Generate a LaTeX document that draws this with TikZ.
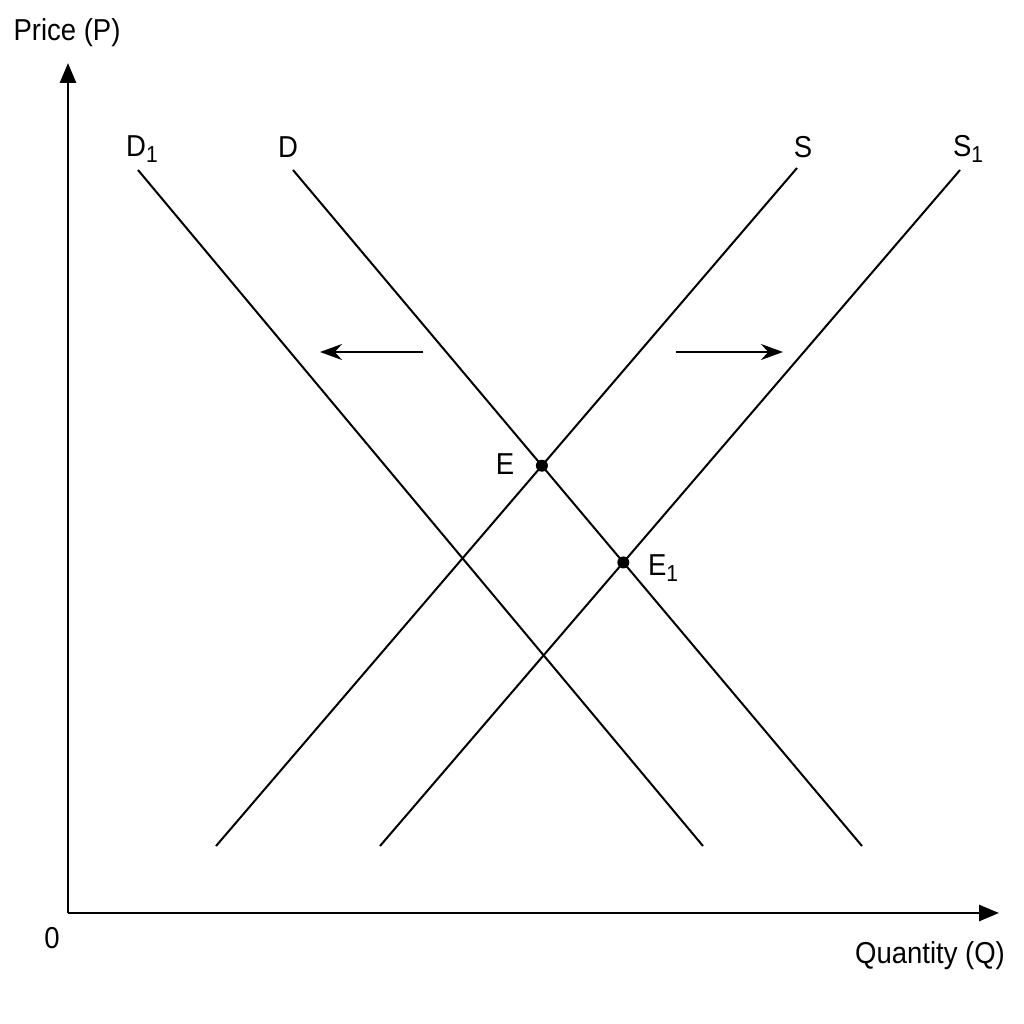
\documentclass[tikz,border=0pt]{standalone}
\usepackage{fontspec}
\setmainfont{Liberation Sans}
\usetikzlibrary{arrows.meta}
\newcommand{\lowone}{\raisebox{-6pt}{\fontsize{21}{21}\selectfont 1}}
\begin{document}
\begin{tikzpicture}[x=1pt,y=-1pt,
    curve/.style={line width=2pt},
    axis/.style={line width=2.8pt,-{Triangle[length=20pt,width=16pt]}},
    shiftarrow/.style={line width=2.2pt,-{Stealth[length=22pt,width=16pt]}},
    lbl/.style={font=\fontsize{27.5}{32}\selectfont,inner sep=0pt}]
\useasboundingbox (0,0) rectangle (1024,1024);
% axes
\coordinate (O) at (68,913);
\coordinate (ytop) at (68,63);
\coordinate (xend) at (999,913);
\draw[axis] (O) -- (ytop);
\draw[axis] (O) -- (xend);
\node[lbl] at (67,33)(price){\scalebox{1}[1.1]{Price (P)}};
\node[lbl] at (52,938)(zero){\scalebox{1}[1.1]{0}};
\node[lbl] at (930,956)(qty){\scalebox{1}[1.1]{Quantity (Q)}};

% curve end points
\coordinate (D1top) at (138,170); \coordinate (D1bot) at (703,846);
\coordinate (Dtop) at (293,170);  \coordinate (Dbot) at (862,846);
\coordinate (Sbot) at (216,846);  \coordinate (Stop) at (797,168);
\coordinate (S1bot) at (380,846); \coordinate (S1top) at (960,170);
\foreach \a/\b in {D1top/D1bot, Dtop/Dbot, Sbot/Stop, S1bot/S1top}{
    \draw[curve] (\a) -- (\b);
}
\node[lbl] at (142,149)(lD1){\scalebox{1}[1.1]{D\lowone}};
\node[lbl] at (288,147)(lD){\scalebox{1}[1.1]{D}};
\node[lbl] at (803,147)(lS){\scalebox{1}[1.1]{S}};
\node[lbl] at (968,149)(lS1){\scalebox{1}[1.1]{S\lowone}};

% equilibrium points
\coordinate (E) at (intersection of Dtop--Dbot and Sbot--Stop);
\coordinate (E1) at (intersection of Dtop--Dbot and S1bot--S1top);
\fill (E) circle (6);
\fill (E1) circle (6);
\node[lbl] at (505,464)(lE){\scalebox{1}[1.1]{E}};
\node[lbl] at (663,568)(lE1){\scalebox{1}[1.1]{E\lowone}};

% shifts
\coordinate (la) at (423,352); \coordinate (lb) at (320,352);
\coordinate (ra) at (676,352); \coordinate (rb) at (783,352);
\draw[shiftarrow] (la) -- (lb);
\draw[shiftarrow] (ra) -- (rb);
\end{tikzpicture}
\end{document}
